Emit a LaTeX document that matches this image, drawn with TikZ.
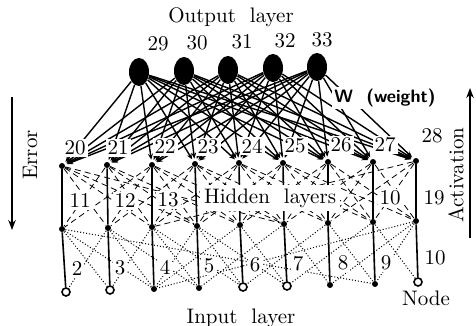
\documentclass[tikz,border=0pt]{standalone}
\usepackage{tikz}
\usetikzlibrary{shapes.geometric, arrows.meta}

\tikzset{
    outnode/.style={ellipse, fill=black, minimum width=10pt, minimum height=14pt, inner sep=0pt},
    dot/.style={circle, fill=black, minimum size=3pt, inner sep=0pt},
    odot/.style={circle, draw, fill=white, line width=0.8pt, minimum size=4pt, inner sep=0pt},
    lab/.style={fill=white, inner sep=1pt},
    wire/.style={-{Stealth[length=3pt,width=2.5pt]}, shorten >=1pt, line width=0.7pt},
    net/.style={densely dashed, line width=0.4pt},
    fine/.style={densely dotted, line width=0.5pt},
    post/.style={line width=0.8pt},
}

\begin{document}
\begin{tikzpicture}[x=0.5pt,y=-0.5pt,font=\fontsize{10.5}{12}\selectfont]
    \useasboundingbox (0,0) rectangle (476,326);

    % output layer
    \node[outnode] (o29) at (139,72) {};
    \node[outnode] (o30) at (184,71) {};
    \node[outnode] (o31) at (228,70) {};
    \node[outnode] (o32) at (273,68) {};
    \node[outnode] (o33) at (317,67) {};

    % upper hidden layer
    \node[dot] (h20) at (62,166) {};
    \node[dot] (h21) at (107,165) {};
    \node[dot] (h22) at (152,165) {};
    \node[dot] (h23) at (195,164) {};
    \node[dot] (h24) at (239,163) {};
    \node[dot] (h25) at (283,163) {};
    \node[dot] (h26) at (328,162) {};
    \node[dot] (h27) at (373,162) {};
    \node[dot] (h28) at (416,161) {};

    % lower hidden layer
    \node[dot] (m11) at (62,229) {};
    \node[dot] (m12) at (108,228) {};
    \node[dot] (m13) at (152,227) {};
    \node[dot] (m14) at (197,226) {};
    \node[dot] (m15) at (240,225) {};
    \node[dot] (m16) at (284,224) {};
    \node[dot] (m17) at (328,223) {};
    \node[dot] (m18) at (373,222) {};
    \node[dot] (m19) at (416,221) {};

    % input layer
    \node[odot] (i2) at (66,292) {};
    \node[odot] (i3) at (110,290) {};
    \node[dot] (i4) at (154,289) {};
    \node[dot] (i5) at (199,288) {};
    \node[odot] (i6) at (243,287) {};
    \node[odot] (i7) at (287,286) {};
    \node[dot] (i8) at (330,285) {};
    \node[dot] (i9) at (375,284) {};
    \node[odot] (i10) at (418,282) {};

    % weights output -> hidden
    \path[wire] (o29) edge (h20) edge (h21) edge (h22) edge (h23) edge (h24) edge (h25) edge (h26) edge (h27) edge (h28)
                (o30) edge (h20) edge (h21) edge (h22) edge (h23) edge (h24) edge (h25) edge (h26) edge (h27) edge (h28)
                (o31) edge (h20) edge (h21) edge (h22) edge (h23) edge (h24) edge (h25) edge (h26) edge (h27) edge (h28)
                (o32) edge (h20) edge (h21) edge (h22) edge (h23) edge (h24) edge (h25) edge (h26) edge (h27) edge (h28)
                (o33) edge (h20) edge (h21) edge (h22) edge (h23) edge (h24) edge (h25) edge (h26) edge (h27) edge (h28);

    % hidden -> hidden
    \path[net] (h20) edge (m12) edge (m13) edge (m14) edge (m16)
               (h21) edge (m11) edge (m13) edge (m14) edge (m15)
               (h22) edge (m11) edge (m12) edge (m14) edge (m15) edge (m16)
               (h23) edge (m12) edge (m13) edge (m15) edge (m16) edge (m17)
               (h24) edge (m13) edge (m14) edge (m16) edge (m17) edge (m18)
               (h25) edge (m14) edge (m15) edge (m17) edge (m18) edge (m19)
               (h26) edge (m15) edge (m16) edge (m18) edge (m19)
               (h27) edge (m16) edge (m17) edge (m19)
               (h28) edge (m13) edge (m17) edge (m18);

    % hidden -> input
    \path[fine] (m11) edge (i3) edge (i4) edge (i9)
                (m12) edge (i2) edge (i4) edge (i5)
                (m13) edge (i3) edge (i5) edge (i6)
                (m14) edge (i4) edge (i6) edge (i7)
                (m15) edge (i4) edge (i6) edge (i7)
                (m16) edge (i5) edge (i7) edge (i8)
                (m17) edge (i6) edge (i8) edge (i9)
                (m18) edge (i7) edge (i9) edge (i10)
                (m19) edge (i4) edge (i8) edge (i9);

    % vertical posts
    \path[post] (h20) edge (m11) (h21) edge (m12) (h22) edge (m13)
                (h23) edge (m14) (h24) edge (m15) (h25) edge (m16)
                (h26) edge (m17) (h27) edge (m18) (h28) edge (m19)
                (m11) edge (i2) (m12) edge (i3) (m13) edge (i4)
                (m14) edge (i5) (m15) edge (i6) (m16) edge (i7)
                (m17) edge (i8) (m18) edge (i9) (m19) edge (i10);

    % node numbers
    \node[lab] (l29) at (158,44) {29};
    \node[lab] (l30) at (197,43) {30};
    \node[lab] (l31) at (242,42) {31};
    \node[lab] (l32) at (285,41) {32};
    \node[lab] (l33) at (322,40) {33};

    \node[lab] (l20) at (75,148) {20};
    \node[lab] (l21) at (118,148) {21};
    \node[lab] (l22) at (165,147) {22};
    \node[lab] (l23) at (208,147) {23};
    \node[lab] (l24) at (252,146) {24};
    \node[lab] (l25) at (295,146) {25};
    \node[lab] (l26) at (341,145) {26};
    \node[lab] (l27) at (385,145) {27};
    \node[lab] (l28) at (432,136) {28};

    \node[lab] (l11) at (80,201) {11};
    \node[lab] (l12) at (125,201) {12};
    \node[lab] (l13) at (168,200) {13};
    \node[lab] (l18) at (390,198) {10};
    \node[lab] (l19) at (434,198) {19};

    \node[lab] (l2) at (77,269) {2};
    \node[lab] (l3) at (120,268) {3};
    \node[lab] (l4) at (165,267) {4};
    \node[lab] (l5) at (209,266) {5};
    \node[lab] (l6) at (255,265) {6};
    \node[lab] (l7) at (298,264) {7};
    \node[lab] (l8) at (343,263) {8};
    \node[lab] (l9) at (386,263) {9};
    \node[lab] (l10) at (435,258) {10};

    % captions
    \node (outcap) at (231,17) {Output\ \ layer};
    \node[lab, inner sep=2pt] (hidcap) at (270,198) {Hidden\ \ layers};
    \node (incap) at (241,318) {Input\ \ layer};
    \node (nodecap) at (426,298) {Node};
    \node[lab, font=\fontsize{9}{11}\selectfont\sffamily\bfseries] (wcap) at (385,98) {W\ \ (weight)};

    % error / activation
    \node[rotate=90] (errcap) at (30,155) {Error};
    \coordinate (e1) at (12,97);
    \coordinate (e2) at (12,230);
    \draw[-{Stealth[length=5pt]}, line width=0.8pt] (e1) -- (e2);

    \node[rotate=90] (actcap) at (456,175) {Activation};
    \coordinate (a1) at (470,238);
    \coordinate (a2) at (470,88);
    \draw[-{Stealth[length=5pt]}, line width=0.8pt] (a1) -- (a2);
\end{tikzpicture}
\end{document}
